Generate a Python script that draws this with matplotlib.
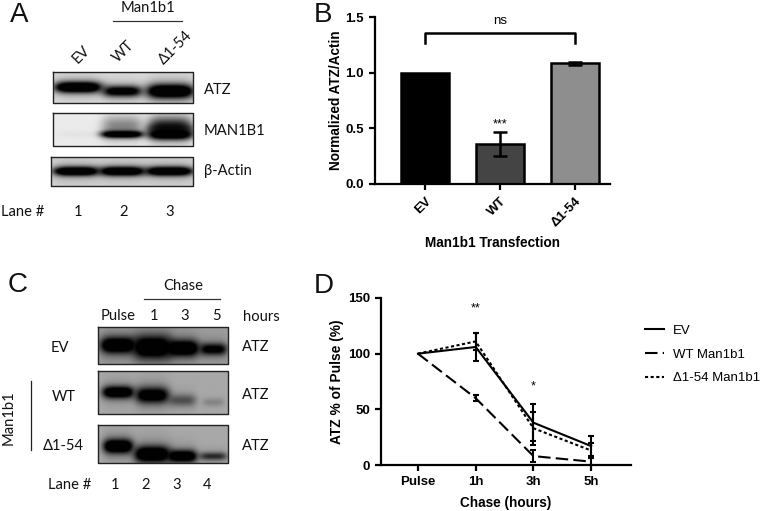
import numpy as np
import matplotlib
matplotlib.use("Agg")
import matplotlib.pyplot as plt
from matplotlib.lines import Line2D

W, H = 760, 511
CAL = ["Lato", "DejaVu Sans"]
ARIAL = ["Liberation Sans", "DejaVu Sans"]

# ------------------------------------------------------------------
# panel B values
# ------------------------------------------------------------------
b_labels = ["EV", "WT", "Δ1-54"]
b_values = [1.0, 0.36, 1.085]
b_errors = [0.0, 0.105, 0.015]
b_colors = ["#000000", "#444444", "#8e8e8e"]
b_ticks = [0.0, 0.5, 1.0, 1.5]

# ------------------------------------------------------------------
# panel D values
# ------------------------------------------------------------------
d_labels = ["Pulse", "1h", "3h", "5h"]
d_ev = [100, 106, 38, 17]
d_ev_err = [0, 13, 16.5, 9]
d_wt = [100, 60, 8, 3]
d_wt_err = [0, 2.5, 5.5, 3]
d_del = [100, 111, 33, 13]
d_del_err = [0, 8, 15, 7]
d_ticks = [0, 50, 100, 150]

# ------------------------------------------------------------------
# blots: box (x0, x1, y0, y1) in pixels, band x, y, half widths, darkness
# ------------------------------------------------------------------
a_atz = dict(box=(53, 193, 72, 103), bg=0.86, x=[78, 122, 170], y=[87, 91, 91],
             wx=[24, 20, 24], wy=[5.5, 5.5, 7], dark=[1.0, 0.8, 1.0])
a_man = dict(box=(53, 193, 113, 146), bg=0.92,
             x=[78, 122, 122, 170, 170, 170], y=[134, 134, 125, 134, 126, 128],
             wx=[20, 21, 20, 22, 22, 22], wy=[3, 3.5, 9, 5, 9, 4], dark=[0.02, 1.0, 0.26, 1.0, 0.55, 0.45])
a_act = dict(box=(51, 193, 157, 186), bg=0.82, x=[76, 122, 169], y=[171, 171, 171],
             wx=[23, 23, 24], wy=[4.5, 4.5, 4.5], dark=[1.0, 1.0, 1.0])
c_ev = dict(box=(98, 228, 327, 364), bg=0.62, x=[118, 152, 182, 213], y=[345, 347, 348, 349],
            wx=[18, 19, 17, 14], wy=[8, 11, 8, 6], dark=[1.0, 1.0, 1.0, 0.75])
c_wt = dict(box=(98, 228, 371, 414), bg=0.66, x=[118, 152, 182, 213], y=[392, 395, 400, 402],
            wx=[16, 17, 14, 11], wy=[6, 8, 6, 4], dark=[0.95, 0.85, 0.35, 0.14])
c_del = dict(box=(98, 228, 425, 463), bg=0.66, x=[118, 152, 182, 213], y=[446, 454, 456, 456],
             wx=[15, 18, 15, 14], wy=[7, 8, 6, 4], dark=[1.0, 1.0, 0.95, 0.5])
blots = [a_atz, a_man, a_act, c_ev, c_wt, c_del]


def render_blot(b):
    x0, x1, y0, y1 = b["box"]
    xx, yy = np.meshgrid(np.arange(x0, x1, 0.5), np.arange(y0, y1, 0.5))
    clear = np.ones_like(xx, dtype=float)
    for x, y, wx, wy, d in zip(b["x"], b["y"], b["wx"], b["wy"], b["dark"]):
        across = np.exp(-((xx - x) / wx) ** 4)
        core = np.exp(-((yy - y) / wy) ** 2)
        halo = np.exp(-((yy - y) / (2.2 * wy)) ** 2)
        clear *= 1 - np.clip(d * across * (1.35 * core + 0.2 * halo), 0, 0.99)
    return b["bg"] * clear


fig = plt.figure(figsize=(W / 100, H / 100), dpi=100)
page = fig.add_axes([0, 0, 1, 1])
page.set_xlim(0, W)
page.set_ylim(H, 0)
page.axis("off")


def label(x, y, s, size=10.6, ha="center", rot=0, fam=CAL, **kw):
    page.text(x, y, s, fontsize=size, ha=ha, va="center", rotation=rot,
              rotation_mode="anchor", family=fam, color="#111111", **kw)


for b in blots:
    x0, x1, y0, y1 = b["box"]
    page.imshow(render_blot(b), cmap="gray", vmin=0, vmax=1, extent=(x0, x1, y1, y0),
                aspect="auto", interpolation="bilinear", zorder=1)
    page.plot([x0, x1, x1, x0, x0], [y0, y0, y1, y1, y0], color="#222222", lw=1.0, zorder=2)
page.set_xlim(0, W)
page.set_ylim(H, 0)

# panel letters
for s, x, y in [("A", 19, 15), ("B", 323, 15), ("C", 18, 285), ("D", 324, 286)]:
    label(x, y, s, size=20, fam=ARIAL)

# panel A text
label(148, 8, "Man1b1")
page.plot([113, 182], [21, 21], color="#333333", lw=0.9)
for x, y, s in [(81, 55, "EV"), (123, 52, "WT"), (175, 48, "Δ1-54")]:
    label(x, y, s, rot=45)
for y, s in [(90, "ATZ"), (131, "MAN1B1"), (171, "β-Actin")]:
    label(204, y, s, ha="left")
label(1, 212, "Lane #", ha="left")
for x, s in [(78, "1"), (124, "2"), (170, "3")]:
    label(x, 212, s)

# panel C text
label(183, 286, "Chase")
page.plot([144, 220], [299, 299], color="#333333", lw=0.9)
for x, s in [(118, "Pulse"), (154, "1"), (185, "3"), (216, "5")]:
    label(x, 316, s)
label(243, 317, "hours", ha="left")
for x, y, s in [(60, 348, "EV"), (64, 397, "WT"), (63, 446, "Δ1-54")]:
    label(x, y, s)
for y in [347, 395, 446]:
    label(242, y, "ATZ", ha="left")
page.plot([30.5, 30.5], [381, 450], color="#222222", lw=0.9)
label(9, 418, "Man1b1", rot=90)
label(70, 485, "Lane #")
for x, s in [(115, "1"), (146, "2"), (177, "3"), (207, "4")]:
    label(x, 485, s)


def axes_px(x0, x1, ybottom, ytop):
    a = fig.add_axes([x0 / W, 1 - ybottom / H, (x1 - x0) / W, (ybottom - ytop) / H])
    a.patch.set_alpha(0)
    for side in ["top", "right"]:
        a.spines[side].set_visible(False)
    for side in ["left", "bottom"]:
        a.spines[side].set_linewidth(1.6)
    a.tick_params(width=1.6, length=4.5, labelsize=9.5)
    return a


# ------------------------------------------------------------------
# panel B
# ------------------------------------------------------------------
ax_b = axes_px(375, 610, 184, 17)
xb = np.arange(len(b_labels))
ax_b.bar(xb, b_values, width=0.65, color=b_colors, edgecolor="black", linewidth=1.8)
ax_b.errorbar(xb[1:], b_values[1:], yerr=b_errors[1:], fmt="none", ecolor="black",
              elinewidth=1.8, capsize=5, capthick=1.8)
ax_b.set_xlim(-0.667, 2.467)
ax_b.set_ylim(0, 1.5)
ax_b.set_yticks(b_ticks, [f"{v:.1f}" for v in b_ticks], fontweight="bold", family=ARIAL)
ax_b.set_xticks(xb, b_labels, fontweight="bold", family=ARIAL, rotation=45,
                ha="right", rotation_mode="anchor")
ax_b.set_ylabel("Normalized ATZ/Actin", fontsize=9.8, fontweight="bold", family=ARIAL, labelpad=2)
ax_b.set_xlabel("Man1b1 Transfection", fontsize=9.8, fontweight="bold", family=ARIAL, labelpad=5)
ax_b.plot([0, 0, 2, 2], [1.27, 1.356, 1.356, 1.27], color="black", lw=1.8, clip_on=False)
ax_b.text(1, 1.46, "ns", ha="center", va="center", fontsize=9.5, family=ARIAL)
ax_b.text(1, 0.535, "***", ha="center", va="center", fontsize=9, family=ARIAL)

# ------------------------------------------------------------------
# panel D
# ------------------------------------------------------------------
ax_d = axes_px(381, 631, 465, 298)
xd = np.arange(len(d_labels))
series = [(d_ev, d_ev_err, "-", "EV"),
          (d_wt, d_wt_err, (0, (6, 2.5)), "WT Man1b1"),
          (d_del, d_del_err, (0, (1.5, 1.2)), "Δ1-54 Man1b1")]
handles = []
for vals, errs, ls, name in series:
    ax_d.errorbar(xd[1:], vals[1:], yerr=errs[1:], fmt="none", ecolor="black",
                  elinewidth=1.5, capsize=2, capthick=1.5, clip_on=False)
    ax_d.plot(xd, vals, color="black", lw=1.5, ls=ls)
    handles.append(Line2D([], [], color="black", lw=1.5, ls=ls, label=name))
ax_d.set_xlim(-0.64, 3.69)
ax_d.set_ylim(0, 150)
ax_d.set_yticks(d_ticks, [str(v) for v in d_ticks], fontweight="bold", family=ARIAL)
ax_d.set_xticks(xd, d_labels, fontweight="bold", family=ARIAL)
ax_d.set_ylabel("ATZ % of Pulse (%)", fontsize=9.9, fontweight="bold", family=ARIAL, labelpad=3)
ax_d.set_xlabel("Chase (hours)", fontsize=9.8, fontweight="bold", family=ARIAL, labelpad=6)
ax_d.text(1, 141, "**", ha="center", va="center", fontsize=9, family=ARIAL)
ax_d.text(2, 71, "*", ha="center", va="center", fontsize=9, family=ARIAL)
fig.legend(handles=handles, loc="center left", bbox_to_anchor=(645 / W, 1 - 354.5 / H), frameon=False,
           handlelength=1.45, handletextpad=0.7, labelspacing=0.88, borderpad=0,
           borderaxespad=0, prop={"family": ARIAL, "size": 9.5})

fig.savefig("out.png", dpi=100)
